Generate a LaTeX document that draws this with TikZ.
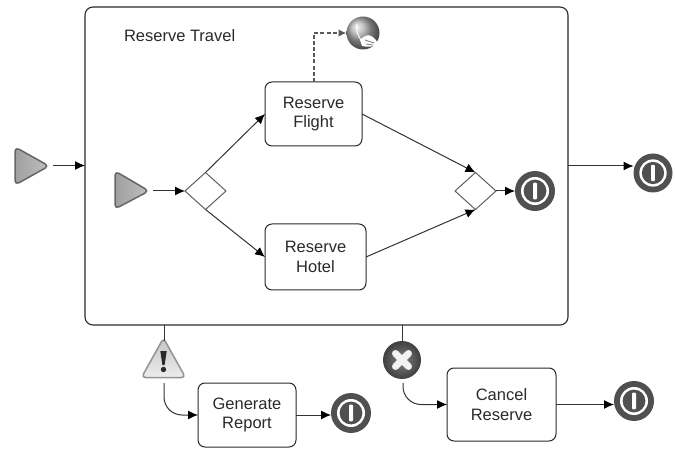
\documentclass[tikz,border=0pt]{standalone}
\usepackage{fontspec}
\setmainfont{Liberation Sans}
\usetikzlibrary{arrows.meta,shapes.geometric,shadings,calc}
\definecolor{ink}{HTML}{2A2A2A}
\definecolor{line}{HTML}{333333}
\definecolor{dark}{HTML}{505050}
\tikzset{
  every node/.style={inner sep=0pt,outer sep=0pt},
  flow/.style={draw=line,line width=1pt,-{Latex[length=10pt,width=9pt,color=black]}},
  assoc/.style={draw=line,line width=1pt},
  comp/.style={draw=gray!70!black,line width=2pt,dash pattern=on 4pt off 2.2pt,-{Latex[length=8pt,width=7.5pt]}},
  taskbox/.style={draw=ink,line width=1pt,rounded corners=7pt,fill=white,align=center,text=ink,font=\fontsize{16.5}{19.5}\selectfont},
  gate/.style={diamond,draw=gray!75!black,line width=1pt,fill=white,minimum width=41pt,minimum height=37pt,aspect=1.1},
  startev/.style={rounded corners=4.5pt,line join=round,draw=gray!80!black,line width=1.5pt,left color=gray!75,right color=gray!50},
  warnev/.style={rounded corners=4pt,line join=round,draw=gray!85,line width=1.5pt,top color=gray!45,bottom color=gray!15},
  endev/.style={circle,minimum size=#1,fill=dark,path picture={
    \fill[white] (path picture bounding box.center) circle (0.35*#1);
    \fill[dark] (path picture bounding box.center) circle (0.285*#1);
    \fill[white,rounded corners=1pt] ($(path picture bounding box.center)+(-0.05*#1,-0.21*#1)$) rectangle ($(path picture bounding box.center)+(0.05*#1,0.21*#1)$);
  }},
  endev/.default=40pt
}
\begin{document}
\begin{tikzpicture}[x=1pt,y=-1pt]
\useasboundingbox (0,0) rectangle (675,449);
\fill[white] (0,0) rectangle (675,449);
% sub-process
\node[draw=ink,line width=1.1pt,rounded corners=8pt,minimum width=483pt,minimum height=318pt] (outer) at (326.5,166) {};
\node[text=ink,font=\fontsize{16.5}{19.5}\selectfont,anchor=west] (title) at (124,36) {Reserve Travel};
% events and gateways
\path[startev] (15,147) -- (49,166) -- (15,185) -- cycle;
\coordinate (s1) at (53,165.5);
\path[startev] (115,171) -- (149,191) -- (115,209) -- cycle;
\coordinate (s2) at (153,191);
\node[gate] (d1) at (205.5,191) {};
\node[gate] (d2) at (475.5,191) {};
\node[taskbox,minimum width=97pt,minimum height=64pt] (flight) at (313.5,114) {Reserve\\Flight};
\node[taskbox,minimum width=101pt,minimum height=66pt] (hotel) at (315.5,257) {Reserve\\Hotel};
\node[taskbox,minimum width=98pt,minimum height=64pt] (gen) at (247,415) {Generate\\Report};
\node[taskbox,minimum width=109pt,minimum height=73pt] (cancel) at (501.5,404.5) {Cancel\\Reserve};
\node[endev] (e1) at (535,191) {};
\node[endev=39pt] (e2) at (653,173) {};
\node[endev] (e3) at (351,413) {};
\node[endev] (e4) at (634,401) {};
% compensation globe
\node[circle,minimum size=33pt,ball color=gray!65] (globe) at (363,33) {};
\fill[white] (360,40) .. controls (364,36) and (368,34) .. (371,36) .. controls (375,38) and (378,42) .. (378,45) .. controls (373,47) and (366,47) .. (362,46) -- cycle;
\draw[gray,line width=0.8pt,line cap=round] (365,40) -- (374,43);
\draw[gray,line width=0.8pt,line cap=round] (366,44) -- (373,45);
\draw[white,line width=1pt,line cap=round] (357,24) .. controls (356,30) and (358,36) .. (361,40);
% warning event
\path[warnev] (163.5,338) -- (185.5,377.5) -- (141.5,377.5) -- cycle;
\coordinate (warnTop) at (164,341);
\coordinate (warnBot) at (164,383);
\fill[ink] (160.3,351) -- (166.7,351) -- (164.6,365) -- (162.4,365) -- cycle;
\fill[ink] (163.5,369.5) circle (2.7pt);
% cancel event
\node[circle,minimum size=38pt,inner color=gray,outer color=gray!50!black] (xev) at (402,360) {};
\draw[gray!10,line width=7pt,line cap=round] (395.5,353.5) -- (408.5,366.5);
\draw[gray!10,line width=7pt,line cap=round] (408.5,353.5) -- (395.5,366.5);
\coordinate (xevBot) at (403,383);
% connectors
\coordinate (outE) at (outer.east);
\draw[flow] (s1) -- (s1 -| outer.west);
\draw[flow] (s2) -- (d1.west);
\draw[flow] (d1.north) -- (flight.west);
\draw[flow] (d1.south) -- (hotel.west);
\draw[flow] (flight.east) -- (d2.north);
\draw[flow] (hotel.east) -- (d2.south);
\draw[flow] (d2.east) -- (e1.west);
\draw[flow] (outE) -- (outE -| e2.west);
\draw[flow] (gen.east) -- (gen.east -| e3.west);
\draw[flow] (cancel.east) -- (cancel.east -| e4.west);
\draw[comp] (flight.north) |- (globe.west);
\draw[assoc] (warnTop |- outer.south) -- (warnTop);
\draw[assoc] (xev.north |- outer.south) -- (xev.north);
\draw[flow,rounded corners=18pt] (warnBot) |- (gen.west);
\draw[flow,rounded corners=18pt] (xevBot) |- (cancel.west);
\end{tikzpicture}
\end{document}
